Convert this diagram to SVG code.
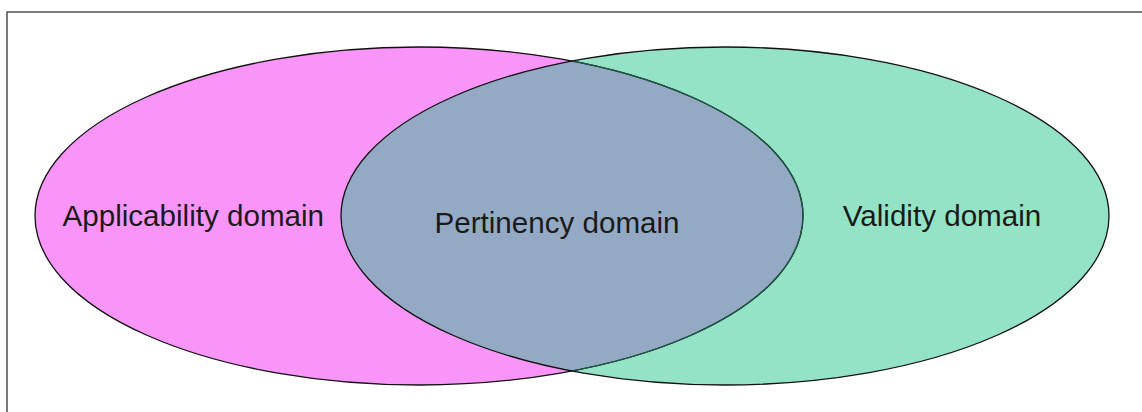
<svg xmlns="http://www.w3.org/2000/svg" width="1142" height="412" viewBox="0 0 1142 412">
<style>
.lbl{font-family:"Liberation Sans",Arial,sans-serif;font-size:29.6px;fill:#1a1a1a;text-anchor:middle}
</style>
<defs>
<clipPath id="clipA"><ellipse cx="419" cy="216" rx="384" ry="169"/></clipPath>
<clipPath id="clipB"><ellipse cx="725" cy="216" rx="384" ry="169"/></clipPath>
</defs>
<rect x="7" y="12" width="1200" height="460" fill="#ffffff" stroke="#444444" stroke-width="1.4"/>
<g id="applicability">
<ellipse cx="419" cy="216" rx="384" ry="169" fill="#f995f9"/>
</g>
<g id="validity">
<ellipse cx="725" cy="216" rx="384" ry="169" fill="#95e3c6"/>
</g>
<g id="pertinency">
<ellipse cx="725" cy="216" rx="384" ry="169" fill="#94aac4" clip-path="url(#clipA)"/>
</g>
<g id="outlines" fill="none" stroke-width="1.3">
<ellipse cx="419" cy="216" rx="384" ry="169" stroke="#111111"/>
<ellipse cx="419" cy="216" rx="384" ry="169" stroke="#1d5a45" clip-path="url(#clipB)"/>
<ellipse cx="725" cy="216" rx="384" ry="169" stroke="#111111"/>
</g>
<g id="labels">
<text class="lbl" x="193.3" y="226">Applicability domain</text>
<text class="lbl" x="557" y="232.5">Pertinency domain</text>
<text class="lbl" x="942" y="226">Validity domain</text>
</g>
</svg>
